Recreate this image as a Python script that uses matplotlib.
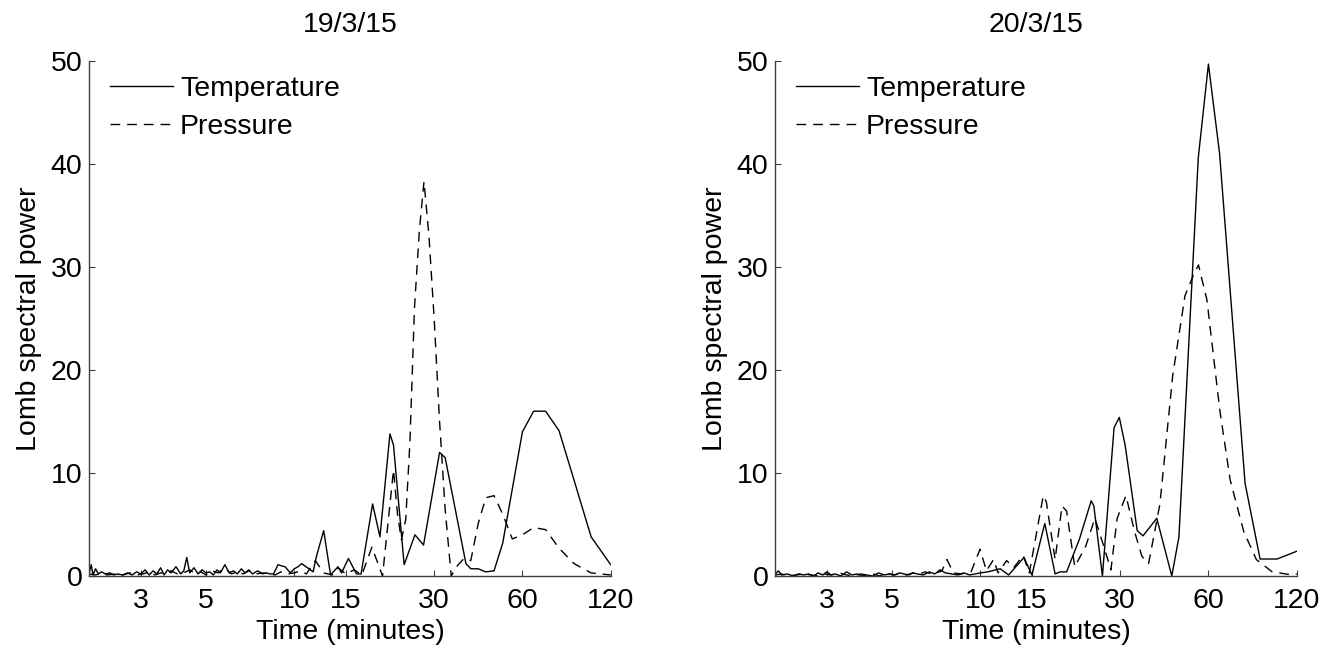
import matplotlib
matplotlib.use("Agg")
import matplotlib.pyplot as plt

plt.rcParams['font.family'] = ['Liberation Sans', 'DejaVu Sans']

titles = ["19/3/15", "20/3/15"]
xticks = [3, 5, 10, 15, 30, 60, 120]
xticklabels = ["3", "5", "10", "15", "30", "60", "120"]
yticks = [0, 10, 20, 30, 40, 50]

# ---- 19/3/15 ----
t1_x = [2.0, 2.03, 2.06, 2.1, 2.15, 2.2, 2.27, 2.35, 2.42, 2.5, 2.6, 2.7, 2.8, 2.9, 3.0, 3.1, 3.2, 3.3,
        3.4, 3.5, 3.6, 3.7, 3.8, 3.95, 4.1, 4.2, 4.3, 4.4, 4.55, 4.7, 4.85, 5.0, 5.15, 5.3, 5.45, 5.6,
        5.8, 6.0, 6.2, 6.4, 6.6, 6.8, 7.0, 7.2, 7.5, 7.8, 8.0, 8.3, 8.5, 8.8, 9.0, 9.3, 9.7, 10.0, 10.3,
        10.6, 11.1, 11.6, 11.9, 12.6, 13.3, 14.1, 14.5, 15.3, 16.3, 16.9, 18.5, 19.6, 21.2, 21.8, 23.7,
        25.8, 27.6, 31.3, 32.7, 38.5, 40.0, 42.4, 45.0, 48.0, 51.4, 60.0, 65.5, 72.0, 80.0, 90.0,
        102.9, 120.0]
t1_y = [0.3, 1.1, 0.1, 0.7, 0.2, 0.4, 0.2, 0.3, 0.1, 0.2, 0.1, 0.3, 0.1, 0.4, 0.2, 0.6, 0.1, 0.5,
        0.2, 0.8, 0.1, 0.6, 0.3, 0.9, 0.2, 0.5, 1.8, 0.3, 0.8, 0.2, 0.6, 0.3, 0.4, 0.1, 0.6, 0.3,
        1.1, 0.3, 0.5, 0.2, 0.7, 0.3, 0.6, 0.2, 0.5, 0.2, 0.3, 0.2, 0.2, 1.1, 1.0, 0.9, 0.3, 0.7, 0.9,
        1.2, 0.8, 0.4, 1.9, 4.4, 0.1, 0.9, 0.3, 1.7, 0.2, 0.2, 7.0, 3.8, 13.8, 12.7, 1.1,
        4.0, 3.0, 12.0, 11.5, 1.2, 0.7, 0.7, 0.4, 0.5, 3.2, 14.0, 16.0, 16.0, 14.1, 9.3,
        3.8, 1.1]

p1_x = [2.0, 2.1, 2.2, 2.3, 2.45, 2.6, 2.75, 2.9, 3.05, 3.2, 3.35, 3.5, 3.65, 3.8, 4.0, 4.2, 4.4, 4.6,
        4.8, 5.0, 5.25, 5.5, 5.8, 6.1, 6.4, 6.7, 7.0, 7.4, 7.8, 8.2, 8.6, 9.0, 9.5, 10.0, 10.5, 11.0,
        11.8, 12.6, 13.5, 14.1, 15.0, 16.0, 17.0, 18.4, 20.0, 21.8, 22.5, 23.2, 24.0, 24.8, 25.7, 26.7,
        27.7, 28.8, 30.0, 31.3, 32.7, 34.3, 36.0, 37.9, 40.0, 42.4, 45.0, 48.0, 51.4, 55.4, 60.0, 65.5,
        72.0, 80.0, 90.0, 102.9, 120.0]
p1_y = [0.2, 0.1, 0.3, 0.1, 0.2, 0.1, 0.3, 0.1, 0.2, 0.4, 0.1, 0.3, 0.2, 0.5, 0.2, 0.3, 0.6, 0.2,
        0.4, 0.1, 0.5, 0.3, 0.8, 0.2, 0.4, 0.2, 0.5, 0.2, 0.3, 0.2, 0.1, 0.4, 0.2, 0.3, 0.5, 0.2,
        1.5, 0.3, 0.1, 0.8, 0.2, 0.6, 0.1, 2.8, 0.0, 10.3, 6.0, 3.5, 5.5, 13.0, 26.0, 33.5,
        38.3, 33.0, 25.0, 15.0, 6.5, 0.0, 1.0, 1.7, 1.5, 5.1, 7.6, 7.8, 6.0, 3.6, 4.0, 4.7,
        4.5, 2.7, 1.2, 0.3, 0.1]

# ---- 20/3/15 ----
t2_x = [2.0, 2.05, 2.1, 2.2, 2.3, 2.4, 2.5, 2.6, 2.7, 2.8, 2.9, 3.0, 3.1, 3.2, 3.35, 3.5, 3.65, 3.8,
        3.95, 4.1, 4.3, 4.5, 4.7, 4.9, 5.1, 5.3, 5.5, 5.7, 5.9, 6.1, 6.4, 6.7, 7.0, 7.3, 7.6, 8.0, 8.4,
        8.8, 9.2, 9.6, 10.0, 10.6, 11.3, 11.7, 12.5, 14.1, 15.0, 16.6, 18.0, 18.7, 19.7, 21.8, 23.9,
        24.4, 26.1, 28.6, 29.8, 31.2, 34.3, 35.9, 40.0, 45.0, 47.6, 55.4, 60.0, 65.5, 80.0, 90.0,
        102.9, 120.0]
t2_y = [0.2, 0.5, 0.1, 0.2, 0.0, 0.2, 0.1, 0.2, 0.0, 0.3, 0.1, 0.4, 0.1, 0.2, 0.0, 0.4, 0.1, 0.2,
        0.0, 0.1, 0.0, 0.3, 0.1, 0.2, 0.1, 0.3, 0.2, 0.1, 0.3, 0.2, 0.1, 0.4, 0.2, 0.6, 0.3, 0.2, 0.1,
        0.3, 0.1, 0.2, 0.3, 0.4, 0.6, 0.7, 0.1, 1.8, 0.1, 5.1, 0.2, 0.4, 0.4, 3.6, 7.3,
        6.8, 0.0, 14.4, 15.4, 12.7, 4.4, 3.9, 5.6, 0.0, 3.8, 40.6, 49.7, 41.0, 9.0, 1.65,
        1.65, 2.4]

p2_x = [2.0, 2.1, 2.2, 2.35, 2.5, 2.65, 2.8, 2.95, 3.1, 3.3, 3.5, 3.7, 3.9, 4.1, 4.3, 4.55, 4.8, 5.05,
        5.3, 5.6, 5.9, 6.2, 6.5, 6.8, 7.1, 7.4, 7.7, 8.1, 8.6, 9.3, 9.98, 10.5, 11.1, 11.5, 12.3, 13.0,
        14.0, 14.7, 16.4, 16.8, 18.0, 19.0, 19.7, 21.0, 22.9, 24.6, 26.1, 27.9, 29.3, 31.4, 33.6, 35.6,
        37.5, 41.0, 45.3, 49.9, 53.3, 55.5, 59.3, 65.6, 71.2, 79.2, 87.4, 99.0, 116.0, 120.0]
p2_y = [0.1, 0.2, 0.0, 0.1, 0.2, 0.1, 0.0, 0.2, 0.1, 0.3, 0.1, 0.0, 0.2, 0.1, 0.2, 0.0, 0.3, 0.1,
        0.2, 0.1, 0.3, 0.2, 0.4, 0.2, 0.3, 0.5, 1.6, 0.3, 0.2, 0.4, 2.6, 0.5, 1.6, 0.3, 1.5, 0.8,
        2.0, 0.3, 7.8, 7.2, 1.6, 6.8, 6.3, 0.9, 2.9, 5.6, 3.3, 0.6, 5.6, 7.8, 4.3, 1.9,
        1.2, 7.0, 19.4, 27.2, 29.2, 30.2, 26.8, 16.1, 9.3, 4.3, 1.6, 0.4, 0.1, 0.2]

panels = [(t1_x, t1_y, p1_x, p1_y), (t2_x, t2_y, p2_x, p2_y)]

W, H = 1339, 650
fig = plt.figure(figsize=(W / 100, H / 100), dpi=100)
lefts = [89.3, 775.3]
ax_w = 521.4
ax_top, ax_bot = 61, 576
FS = 20.5
axis_col = '#404040'

for i, (tx, ty, px, py) in enumerate(panels):
    ax = fig.add_axes([lefts[i] / W, (H - ax_bot) / H, ax_w / W, (ax_bot - ax_top) / H])
    ax.plot(tx, ty, color='black', lw=1.0, label='Temperature')
    ax.plot(px, py, color='black', lw=1.0, dashes=(7, 5), label='Pressure')
    ax.set_xscale('log')
    ax.set_xlim(2, 120)
    ax.set_ylim(0, 50)
    ax.set_xticks(xticks)
    ax.set_xticklabels(xticklabels)
    ax.minorticks_off()
    ax.set_yticks(yticks)
    ax.spines['top'].set_visible(False)
    ax.spines['right'].set_visible(False)
    for s in ['left', 'bottom']:
        ax.spines[s].set_color(axis_col)
        ax.spines[s].set_linewidth(1.0)
    ax.tick_params(direction='in', length=4, width=0.8, color=axis_col,
                   labelsize=FS)
    ax.tick_params(axis='x', pad=8.5)
    ax.tick_params(axis='y', pad=5)
    ax.set_xlabel('Time (minutes)', fontsize=FS, labelpad=4)
    ax.set_ylabel('Lomb spectral power', fontsize=FS, labelpad=6)
    ax.set_title(titles[i], fontsize=FS, pad=21)
    ax.legend(loc='upper left', bbox_to_anchor=(0.04, 0.97), frameon=False,
              fontsize=FS, handlelength=2.2, handletextpad=0.25, labelspacing=0.4,
              borderpad=0, borderaxespad=0)

fig.savefig('out.png', dpi=100)
